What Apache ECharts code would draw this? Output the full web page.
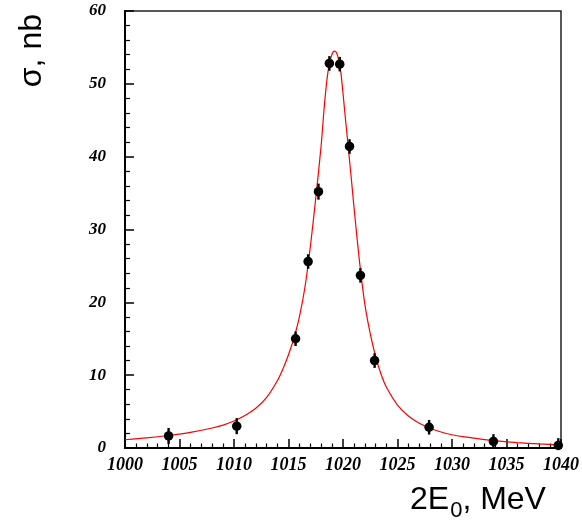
<!DOCTYPE html>
<html>
<head>
<meta charset="utf-8">
<script src="https://cdn.jsdelivr.net/npm/echarts@6/dist/echarts.min.js"></script>
<style>
  html, body { margin: 0; padding: 0; background: #fff; }
  #chart { width: 582px; height: 529px; }
</style>
</head>
<body>
<div id="chart"></div>
<script>
// Measured cross section near the phi resonance
const energies = [1004.0, 1010.25, 1015.65, 1016.8, 1017.75, 1018.75, 1019.7, 1020.6, 1021.6, 1022.9, 1027.9, 1033.8, 1039.75];
const sigma    = [1.65, 3.0, 15.0, 25.6, 35.2, 52.8, 52.7, 41.4, 23.7, 12.0, 2.85, 0.9, 0.35];
const sigmaErr = [1.1, 1.1, 1.0, 1.0, 1.1, 1.0, 1.0, 1.0, 1.0, 1.0, 1.0, 1.0, 1.0];

// Fitted curve, read along its length
const fitE = [1000, 1002, 1004, 1006, 1008, 1009, 1010, 1011, 1012, 1013, 1014, 1014.5, 1015, 1015.5,
              1016, 1016.5, 1017, 1017.5, 1018, 1018.25, 1018.5, 1018.75, 1019, 1019.2, 1019.4, 1019.6,
              1019.8, 1020, 1020.25, 1020.5, 1020.75, 1021, 1021.5, 1022, 1022.5, 1023, 1023.5, 1024,
              1025, 1026, 1027, 1028, 1029, 1030, 1031, 1032, 1034, 1036, 1038, 1040];
const fitSigma = [1.13, 1.38, 1.72, 2.15, 2.75, 3.15, 3.7, 4.45, 5.45, 6.95, 9.3, 10.9, 12.8, 15.1,
                  18.0, 22.0, 27.6, 34.3, 41.6, 46.3, 50.2, 52.8, 54.1, 54.5, 54.3, 53.3,
                  51.6, 48.7, 44.8, 41.0, 37.2, 33.2, 25.8, 19.8, 15.7, 12.5, 10.1, 8.3,
                  5.9, 4.4, 3.4, 2.72, 2.2, 1.82, 1.55, 1.35, 0.98, 0.74, 0.56, 0.42];

const xTicks = [1000, 1005, 1010, 1015, 1020, 1025, 1030, 1035, 1040];
const yTicks = [0, 10, 20, 30, 40, 50, 60];

const tickFont = {
  fontFamily: 'Liberation Serif',
  fontWeight: 'bold',
  fontStyle: 'italic',
  color: '#000',
  formatter: v => String(v)
};

const chart = echarts.init(document.getElementById('chart'), null, { renderer: 'canvas' });

chart.setOption({
  animation: false,
  backgroundColor: '#fff',
  grid: {
    left: 125, right: 20, top: 11, bottom: 81,
    show: true, borderColor: '#222', borderWidth: 1.5, backgroundColor: 'transparent'
  },
  xAxis: {
    type: 'value',
    min: xTicks[0], max: xTicks[xTicks.length - 1], interval: 5,
    axisLine: { show: true, onZero: false, lineStyle: { color: '#000', width: 2 } },
    axisTick: { show: true, inside: true, length: 9, lineStyle: { color: '#000', width: 1.5 } },
    minorTick: { show: true, splitNumber: 5, length: 4.5, lineStyle: { color: '#000', width: 1.2 } },
    splitLine: { show: false },
    axisLabel: Object.assign({ fontSize: 18, margin: 8, showMinLabel: true, showMaxLabel: true }, tickFont)
  },
  yAxis: {
    type: 'value',
    min: yTicks[0], max: yTicks[yTicks.length - 1], interval: 10,
    axisLine: { show: true, onZero: false, lineStyle: { color: '#000', width: 2 } },
    axisTick: { show: true, inside: true, length: 9, lineStyle: { color: '#000', width: 1.5 } },
    minorTick: { show: true, splitNumber: 5, length: 5, lineStyle: { color: '#000', width: 1.2 } },
    splitLine: { show: false },
    axisLabel: Object.assign({ fontSize: 17, margin: 19, showMinLabel: true, showMaxLabel: true }, tickFont)
  },
  graphic: [
    {
      type: 'text',
      left: 16, top: 14,
      rotation: Math.PI / 2,
      style: {
        text: 'σ, nb',
        font: '32px "Liberation Sans"',
        fill: '#000'
      }
    },
    {
      type: 'text',
      left: 410, top: 484,
      style: {
        text: '{m|2E}{s|0}{m|, MeV}',
        fill: '#000',
        rich: {
          m: { font: '32px "Liberation Sans"', fill: '#000', verticalAlign: 'top' },
          s: { font: '22px "Liberation Sans"', fill: '#000', padding: [16, 0, 0, 1] }
        }
      }
    }
  ],
  series: [
    {
      type: 'line',
      name: 'fit',
      data: fitE.map((e, i) => [e, fitSigma[i]]),
      smooth: 0.3,
      showSymbol: false,
      lineStyle: { color: '#ff0000', width: 1.2 },
      z: 2
    },
    {
      type: 'custom',
      name: 'errors',
      data: energies.map((e, i) => [e, sigma[i], sigmaErr[i]]),
      renderItem: function (params, api) {
        const x = api.value(0), y = api.value(1), d = api.value(2);
        const lo = api.coord([x, Math.max(0, y - d)]);
        const hi = api.coord([x, y + d]);
        return {
          type: 'line',
          shape: { x1: lo[0], y1: lo[1], x2: hi[0], y2: hi[1] },
          style: { stroke: '#000', lineWidth: 2.4 }
        };
      },
      z: 3
    },
    {
      type: 'scatter',
      name: 'data',
      data: energies.map((e, i) => [e, sigma[i]]),
      symbol: 'circle',
      symbolSize: 9.5,
      itemStyle: { color: '#000', opacity: 1 },
      z: 4
    }
  ]
});
</script>
</body>
</html>
